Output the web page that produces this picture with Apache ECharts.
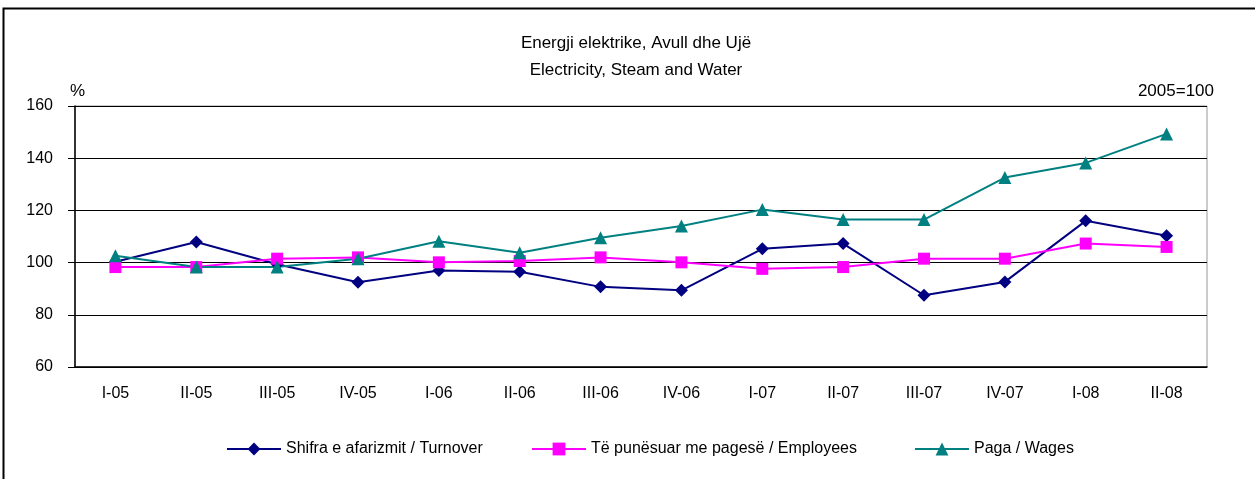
<!DOCTYPE html>
<html style="height: 100%">

<head>
  <meta charset="utf-8">
</head>

<body style="height: 100%; margin: 0; background: #fff">
  <div id="container" style="height: 100%"></div>
  <script type="text/javascript" src="https://cdn.jsdelivr.net/npm/echarts@6/dist/echarts.min.js"></script>
  <script type="text/javascript">
  var quarters = ['I-05', 'II-05', 'III-05', 'IV-05', 'I-06', 'II-06', 'III-06', 'IV-06',
    'I-07', 'II-07', 'III-07', 'IV-07', 'I-08', 'II-08'];
  var turnover = [100.3, 107.9, 99.4, 92.5, 97.0, 96.5, 90.7, 89.4, 105.3, 107.3, 87.5, 92.6, 116.0, 110.3];
  var employees = [98.3, 98.3, 101.5, 102.0, 100.1, 100.6, 102.0, 100.1, 97.6, 98.3, 101.5, 101.5, 107.3, 106.0];
  var wages = [102.6, 98.3, 98.3, 101.5, 108.2, 103.8, 109.5, 114.0, 120.3, 116.5, 116.5, 132.6, 138.2, 149.3];
  var names = ['Shifra e afarizmit / Turnover', 'Të punësuar me pagesë / Employees', 'Paga / Wages'];

  var dom = document.getElementById('container');
  var myChart = echarts.init(dom);
  var font = 'Liberation Sans, Arial, sans-serif';

  // one legend per item so each sits where the original puts it
  var legendLeft = [221, 526, 909];
  var legends = names.map(function(n, i) {
    return {
      data: [n],
      left: legendLeft[i],
      top: 436,
      itemWidth: 54,
      itemHeight: 16,
      textStyle: { fontSize: 16, color: '#000' }
    };
  });

  var option = {
    animation: false,
    textStyle: { fontFamily: font },
    title: {
      text: 'Energji elektrike, Avull dhe Ujë',
      subtext: 'Electricity, Steam and Water',
      left: 631,
      textAlign: 'center',
      top: 30,
      itemGap: 10,
      textStyle: { fontSize: 17, fontWeight: 'normal', color: '#000' },
      subtextStyle: { fontSize: 17, color: '#000' }
    },
    graphic: [
      {
        type: 'rect',
        shape: { x: 3.5, y: 8.5, width: 1400, height: 600 },
        style: { fill: null, stroke: '#000', lineWidth: 2 },
        silent: true
      },
      {
        type: 'text', left: 70, top: 83,
        style: { text: '%', fill: '#000', font: '17px ' + font }
      },
      {
        type: 'text', right: 41, top: 83,
        style: { text: '2005=100', fill: '#000', font: '17px ' + font }
      }
    ],
    legend: legends,
    grid: { left: 75, right: 48, top: 106, bottom: 112, show: true, borderColor: '#999', borderWidth: 1 },
    xAxis: {
      type: 'category',
      data: quarters,
      boundaryGap: true,
      axisLine: { lineStyle: { color: '#000', width: 1.5 } },
      axisTick: { length: 7, lineStyle: { color: '#000' } },
      axisLabel: { color: '#000', fontSize: 16, margin: 19 }
    },
    yAxis: {
      type: 'value',
      min: 60,
      max: 160,
      interval: 20,
      axisLine: { show: true, lineStyle: { color: '#000', width: 1.5 } },
      axisTick: { show: true, length: 7, lineStyle: { color: '#000' } },
      axisLabel: { color: '#000', fontSize: 16, margin: 22 },
      splitLine: { lineStyle: { color: '#000', width: 1 } }
    },
    series: [
      {
        name: names[0],
        type: 'line',
        data: turnover,
        symbol: 'diamond',
        symbolSize: 13,
        lineStyle: { color: '#000080', width: 2 },
        itemStyle: { color: '#000080' }
      },
      {
        name: names[1],
        type: 'line',
        data: employees,
        symbol: 'rect',
        symbolSize: 12,
        lineStyle: { color: '#ff00ff', width: 2 },
        itemStyle: { color: '#ff00ff' }
      },
      {
        name: names[2],
        type: 'line',
        data: wages,
        symbol: 'triangle',
        symbolSize: 13,
        lineStyle: { color: '#008080', width: 2 },
        itemStyle: { color: '#008080' }
      }
    ]
  };

  if (option && typeof option === 'object') {
    myChart.setOption(option);
  }
  </script>
</body>

</html>
